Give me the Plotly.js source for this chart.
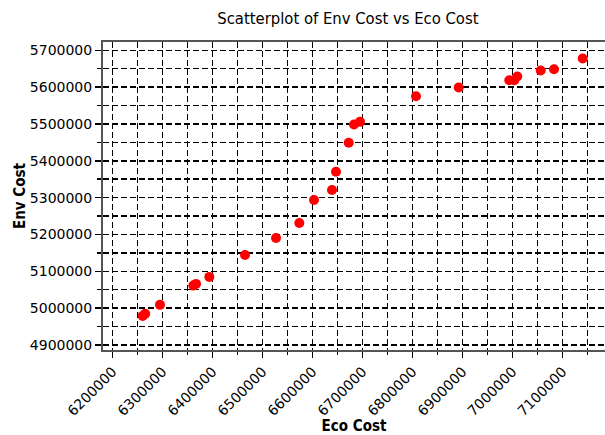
<!DOCTYPE html>
<html>
<head>
<meta charset="utf-8">
<script src="https://cdn.plot.ly/plotly-3.0.1.min.js"></script>
<style>html,body{margin:0;padding:0;background:#fff;}</style>
</head>
<body>
<div id="chart" style="width:605px;height:435px;"></div>
<script>
var ecoCost = [6260000, 6265000, 6294600, 6361200, 6366600, 6393200, 6464600, 6526600, 6573200, 6602600, 6638600, 6646600, 6672000, 6682600, 6694600, 6806600, 6892000, 6993200, 7003200, 7009200, 7056000, 7082600, 7140000];
var envCost = [4979000, 4984600, 5008900, 5061200, 5065800, 5084800, 5144400, 5190500, 5231200, 5293500, 5320600, 5370200, 5448800, 5498600, 5505700, 5575300, 5598900, 5618700, 5618700, 5628700, 5645000, 5648500, 5677500];

var tickFam = 'DejaVu Sans, Verdana, sans-serif';
var titleFam = 'DejaVu Sans Condensed, DejaVu Sans, sans-serif';
var trace = {
  x: ecoCost, y: envCost, type: 'scatter', mode: 'markers',
  marker: {color: '#ff0000', size: 10}
};
var gridStyle = {color: '#000', dash: '6px,3px', width: 1.5};
var layout = {
  width: 605, height: 435,
  margin: {l: 103, r: 0, t: 42, b: 85},
  paper_bgcolor: '#fff', plot_bgcolor: '#fff',
  showlegend: false,
  title: {text: 'Scatterplot of Env Cost vs Eco Cost', font: {family: titleFam, size: 16.5, color: '#000'}, x: 0.575, xanchor: 'center', y: 0.958, yanchor: 'middle'},
  xaxis: {
    range: [6180600, 7184600], tick0: 0, dtick: 100000, tickformat: 'd',
    tickangle: -45, ticks: 'outside', ticklen: 6, tickwidth: 1.5, tickcolor: '#000',
    tickfont: {family: tickFam, size: 14, color: '#000'},
    showline: true, linecolor: '#555', linewidth: 2, mirror: true,
    showgrid: true, gridcolor: gridStyle.color, griddash: gridStyle.dash, gridwidth: gridStyle.width,
    zeroline: false,
    minor: {tick0: 0, dtick: 50000, ticks: 'outside', ticklen: 3, tickcolor: '#000', showgrid: true, gridcolor: gridStyle.color, griddash: gridStyle.dash, gridwidth: gridStyle.width},
    title: {text: '<b>Eco Cost</b>', font: {family: titleFam, size: 15, color: '#000'}, standoff: 6}
  },
  yaxis: {
    range: [4886400, 5722500], tick0: 0, dtick: 100000, tickformat: 'd',
    ticks: 'outside', ticklen: 6, tickwidth: 1.5, tickcolor: '#000',
    tickfont: {family: tickFam, size: 14, color: '#000'},
    showline: true, linecolor: '#555', linewidth: 2, mirror: false,
    showgrid: true, gridcolor: gridStyle.color, griddash: gridStyle.dash, gridwidth: gridStyle.width,
    zeroline: false,
    minor: {tick0: 0, dtick: 50000, ticks: 'outside', ticklen: 4, tickcolor: '#000', showgrid: true, gridcolor: gridStyle.color, griddash: gridStyle.dash, gridwidth: gridStyle.width},
    title: {text: '<b>Env Cost</b>', font: {family: titleFam, size: 15, color: '#000'}, standoff: 1}
  }
};
Plotly.newPlot('chart', [trace], layout, {displayModeBar: false, staticPlot: true});
</script>
</body>
</html>
